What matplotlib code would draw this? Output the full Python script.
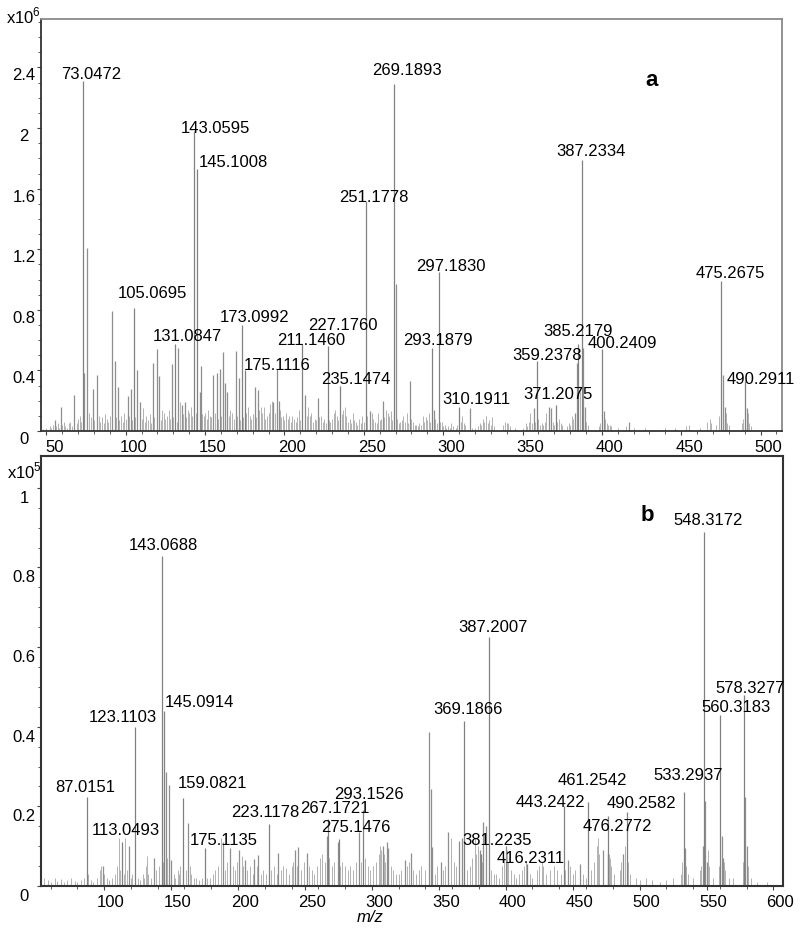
import matplotlib
matplotlib.use("Agg")
import matplotlib.pyplot as plt
from matplotlib.ticker import MultipleLocator, FuncFormatter
from matplotlib.transforms import ScaledTranslation

plt.rcParams["font.family"] = ["Liberation Sans", "DejaVu Sans"]
plt.rcParams["mathtext.fontset"] = "custom"
plt.rcParams["mathtext.rm"] = "Liberation Sans"

# ---- spectrum a (intensity x10^6) ----
lab_mz_a = [73.0472, 105.0695, 131.0847, 143.0595, 145.1008, 173.0992, 175.1116,
            211.1460, 227.1760, 235.1474, 251.1778, 269.1893, 293.1879, 297.1830,
            310.1911, 359.2378, 371.2075, 385.2179, 387.2334, 400.2409, 475.2675, 490.2911]
lab_int_a = [2.31, 0.81, 0.575, 1.98, 1.73, 0.70, 0.40, 0.575, 0.56, 0.30, 1.52,
             2.29, 0.55, 1.05, 0.16, 0.46, 0.17, 0.575, 1.79, 0.54, 0.99, 0.33]
lab_txt_a = ["73.0472", "105.0695", "131.0847", "143.0595", "145.1008", "173.0992",
             "175.1116", "211.1460", "227.1760", "235.1474", "251.1778", "269.1893",
             "293.1879", "297.1830", "310.1911", "359.2378", "371.2075", "385.2179",
             "387.2334", "400.2409", "475.2675", "490.2911"]

peak_mz_a = [55.4, 59.2, 67.4, 73.7, 75.4, 79.1, 81.6, 91.5, 93.2, 95.3, 101.2, 103.3,
             107.3, 108.9, 117.3, 119.5, 121.1, 129.3, 133.1, 135.6, 137.3, 146.7, 147.4,
             155.1, 157.6, 159.4, 161.4, 162.5, 163.6, 169.2, 171.3, 181.4, 183.5, 193.0,
             195.1, 196.7, 212.9, 221.3, 253.9, 262.3, 270.1, 279.0, 294.4, 316.9, 357.2,
             366.7, 367.7, 383.0, 384.2, 388.2, 389.3, 401.5, 417.0, 476.5, 477.6, 491.2]
peak_int_a = [0.07, 0.16, 0.24, 0.38, 1.21, 0.28, 0.37, 0.79, 0.46, 0.29, 0.23, 0.28,
              0.40, 0.19, 0.45, 0.54, 0.36, 0.44, 0.55, 0.17, 0.19, 0.26, 0.43,
              0.37, 0.38, 0.41, 0.52, 0.32, 0.26, 0.53, 0.35, 0.29, 0.27, 0.19,
              0.41, 0.20, 0.24, 0.22, 0.13, 0.20, 0.97, 0.33, 0.14, 0.15, 0.15,
              0.16, 0.15, 0.12, 0.45, 0.55, 0.16, 0.13, 0.06, 0.37, 0.16, 0.15]

grass_mz_a = [48, 50, 52, 53, 54, 56, 57, 58, 60, 61, 62, 63, 64, 65, 66, 69, 70, 71, 72, 77,
              78, 80, 83, 84, 85, 86, 87, 88, 89, 90, 94, 96, 97, 98, 99, 100, 102, 104, 106, 110,
              111, 112, 113, 114, 115, 116, 118, 120, 122, 123, 124, 125, 126, 127, 128, 130, 132,
              134, 136, 138, 139, 140, 141, 142, 144, 148, 149, 150, 151, 152, 153, 154, 156, 158,
              160, 164, 165, 166, 167, 168, 170, 172, 174, 176, 177, 178, 179, 180, 182, 184, 185,
              186, 187, 188, 189, 190, 191, 192, 194, 197, 198, 199, 200, 201, 202, 203, 204, 205,
              206, 207, 208, 209, 210, 214, 215, 216, 217, 218, 219, 220, 222, 223, 224, 225, 226,
              228, 229, 230, 231, 232, 233, 234, 236, 237, 238, 239, 240, 241, 242, 243, 244, 245,
              246, 247, 248, 249, 250, 252, 255, 256, 257, 258, 259, 260, 261, 263, 264, 265, 266,
              267, 268, 271, 272, 273, 274, 275, 276, 277, 278, 280, 281, 282, 283, 284, 285, 286,
              287, 288, 289, 290, 291, 292, 295, 296, 298, 299, 300, 301, 302, 303, 304, 305, 306,
              308, 309, 311, 312, 313, 314, 318, 320, 322, 323, 324, 325, 326, 327, 328, 329, 330,
              331, 332, 338, 339, 340, 341, 342, 345, 350, 352, 353, 354, 355, 356, 358, 360, 361,
              362, 363, 364, 365, 368, 369, 370, 372, 373, 374, 375, 378, 379, 380, 381, 382, 386,
              390, 391, 398, 399, 402, 403, 404, 405, 406, 410, 415, 420, 427, 440, 446, 453, 455,
              462, 466, 468, 469, 472, 474, 478, 479, 480, 488, 489, 492, 493, 494]
grass_int_a = [0.01, 0.02, 0.03, 0.02, 0.04, 0.03, 0.05, 0.02, 0.04, 0.06, 0.03, 0.02, 0.05, 0.06, 0.03, 0.05, 0.08, 0.10, 0.06, 0.12,
               0.09, 0.07, 0.10, 0.06, 0.09, 0.05, 0.11, 0.08, 0.06, 0.10, 0.09, 0.07, 0.10, 0.06, 0.12, 0.08, 0.10, 0.07, 0.09, 0.08,
               0.15, 0.06, 0.10, 0.07, 0.11, 0.05, 0.09, 0.12, 0.07, 0.14, 0.12, 0.08, 0.10, 0.14, 0.08, 0.09, 0.06,
               0.19, 0.11, 0.09, 0.14, 0.12, 0.16, 0.10, 0.12, 0.11, 0.10, 0.12, 0.08, 0.14, 0.10, 0.09, 0.12, 0.08,
               0.10, 0.12, 0.10, 0.14, 0.12, 0.08, 0.10, 0.07, 0.09, 0.12, 0.16, 0.10, 0.08, 0.11, 0.09, 0.14, 0.16,
               0.12, 0.16, 0.08, 0.10, 0.12, 0.18, 0.20, 0.12, 0.14, 0.09, 0.10, 0.07, 0.12, 0.08, 0.10, 0.06, 0.10,
               0.08, 0.06, 0.09, 0.14, 0.07, 0.10, 0.16, 0.10, 0.12, 0.06, 0.08, 0.07, 0.09, 0.10, 0.06, 0.08, 0.05,
               0.07, 0.06, 0.08, 0.12, 0.14, 0.10, 0.07, 0.11, 0.14, 0.16, 0.10, 0.06, 0.08, 0.05, 0.12, 0.07, 0.06,
               0.04, 0.08, 0.05, 0.10, 0.06, 0.10, 0.12, 0.08, 0.06, 0.05, 0.12, 0.07, 0.08, 0.09, 0.14, 0.12, 0.10,
               0.13, 0.07, 0.08, 0.05, 0.06, 0.07, 0.10, 0.06, 0.12, 0.05, 0.08, 0.06, 0.04, 0.04, 0.03, 0.05, 0.04,
               0.10, 0.06, 0.09, 0.07, 0.12, 0.06, 0.08, 0.05, 0.06, 0.06, 0.03, 0.04, 0.02, 0.03, 0.02, 0.05, 0.03,
               0.02, 0.04, 0.06, 0.10, 0.05, 0.04, 0.02, 0.02, 0.03, 0.05, 0.04, 0.08, 0.06, 0.10, 0.05, 0.07, 0.04,
               0.09, 0.03, 0.04, 0.06, 0.05, 0.05, 0.03, 0.02, 0.02, 0.05, 0.03, 0.06, 0.12, 0.05, 0.06, 0.08, 0.04,
               0.05, 0.04, 0.06, 0.12, 0.05, 0.06, 0.04, 0.06, 0.08, 0.05, 0.04, 0.03, 0.05, 0.04, 0.10, 0.08, 0.30,
               0.06, 0.04, 0.03, 0.05, 0.08, 0.05, 0.04, 0.04, 0.03, 0.02, 0.03, 0.02, 0.02, 0.02, 0.02, 0.03, 0.04,
               0.02, 0.06, 0.08, 0.05, 0.04, 0.10, 0.12, 0.05, 0.04, 0.05, 0.08, 0.12, 0.05, 0.03]

# ---- spectrum b (intensity x10^5) ----
lab_mz_b = [87.0151, 113.0493, 123.1103, 143.0688, 145.0914, 159.0821, 175.1135,
            223.1178, 267.1721, 275.1476, 293.1526, 369.1866, 381.2235, 387.2007,
            416.2311, 443.2422, 461.2542, 476.2772, 490.2582, 533.2937, 548.3172,
            560.3183, 578.3277]
lab_int_b = [0.223, 0.11, 0.40, 0.83, 0.44, 0.22, 0.095, 0.156, 0.168, 0.118, 0.19,
             0.415, 0.08, 0.625, 0.055, 0.20, 0.21, 0.177, 0.185, 0.235, 0.89, 0.43, 0.48]
lab_txt_b = ["87.0151", "113.0493", "123.1103", "143.0688", "145.0914", "159.0821",
             "175.1135", "223.1178", "267.1721", "275.1476", "293.1526", "369.1866",
             "381.2235", "387.2007", "416.2311", "443.2422", "461.2542", "476.2772",
             "490.2582", "533.2937", "548.3172", "560.3183", "578.3277"]

peak_mz_b = [99.5, 118.9, 137.6, 146.0, 148.8, 150.0, 163.0, 189.0, 194.1, 201.0, 205.3,
             212.0, 215.3, 230.2, 242.6, 245.1, 251.4, 266.3, 274.5, 290.7, 308.6, 311.1,
             312.3, 324.8, 329.0, 342.9, 344.0, 345.2, 351.4, 357.1, 365.4, 367.1, 380.8,
             383.3, 385.3, 400.2, 446.8, 455.5, 472.4, 476.6, 487.9, 533.9, 547.5, 549.0,
             550.1, 561.3, 562.5, 578.7, 580.0]
peak_int_b = [0.05, 0.10, 0.07, 0.286, 0.254, 0.065, 0.158, 0.11, 0.095, 0.091, 0.065,
              0.068, 0.078, 0.083, 0.09, 0.097, 0.083, 0.126, 0.11, 0.135, 0.10, 0.11,
              0.095, 0.065, 0.083, 0.388, 0.244, 0.097, 0.06, 0.135, 0.114, 0.12, 0.09,
              0.16, 0.15, 0.10, 0.065, 0.055, 0.09, 0.08, 0.08, 0.095, 0.10, 0.214,
              0.06, 0.126, 0.07, 0.223, 0.10]

grass_mz_b = [55, 58, 60, 63, 65, 68, 70, 72, 75, 78, 80, 83, 85, 88, 90, 92, 95, 97, 98, 100,
              102, 104, 106, 108, 110, 111, 112, 115, 116, 117, 120, 121, 125, 127, 129, 130, 131,
              132, 133, 135, 139, 141, 144, 147, 152, 153, 155, 156, 157, 161, 164, 165, 167, 169,
              171, 173, 177, 179, 181, 183, 185, 187, 190, 192, 196, 198, 199, 203, 204, 207, 209,
              211, 214, 217, 219, 221, 225, 227, 229, 232, 234, 236, 238, 240, 241, 244, 247, 249,
              253, 255, 257, 259, 261, 263, 265, 268, 270, 272, 276, 278, 280, 282, 284, 286, 288,
              292, 295, 297, 299, 301, 303, 305, 306, 307, 309, 310, 314, 316, 318, 320, 322, 326,
              328, 331, 333, 335, 337, 340, 347, 349, 353, 355, 359, 361, 363, 371, 373, 375, 377,
              378, 379, 382, 389, 391, 393, 395, 397, 399, 401, 402, 404, 406, 408, 410, 412, 414,
              415, 418, 420, 423, 425, 427, 428, 430, 433, 436, 438, 441, 444, 448, 450, 452, 458,
              460, 464, 466, 468, 469, 470, 473, 477, 478, 479, 481, 485, 486, 489, 491, 493, 497,
              500, 505, 509, 515, 520, 525, 531, 532, 535, 536, 540, 545, 546, 551, 552, 555, 559,
              563, 564, 567, 570, 577, 579, 581, 583, 588, 595]
grass_int_b = [0.02, 0.015, 0.01, 0.02, 0.012, 0.018, 0.01, 0.015, 0.02, 0.012, 0.01, 0.015, 0.02, 0.03, 0.015, 0.01, 0.02, 0.04, 0.05, 0.03,
               0.02, 0.015, 0.02, 0.03, 0.05, 0.12, 0.04, 0.03, 0.12, 0.04, 0.02, 0.03, 0.02, 0.015, 0.03, 0.02, 0.05,
               0.075, 0.03, 0.02, 0.04, 0.05, 0.06, 0.07, 0.03, 0.02, 0.04, 0.03, 0.05, 0.04, 0.05, 0.03, 0.02, 0.02,
               0.015, 0.02, 0.02, 0.02, 0.03, 0.04, 0.05, 0.12, 0.04, 0.06, 0.05, 0.04, 0.06, 0.075, 0.05, 0.04, 0.05,
               0.03, 0.05, 0.03, 0.04, 0.03, 0.04, 0.05, 0.03, 0.04, 0.05, 0.045, 0.03, 0.05, 0.06, 0.05, 0.04, 0.06,
               0.05, 0.04, 0.03, 0.05, 0.07, 0.08, 0.06, 0.07, 0.05, 0.06, 0.05, 0.06, 0.05, 0.04, 0.05, 0.04, 0.06,
               0.06, 0.07, 0.05, 0.04, 0.05, 0.06, 0.08, 0.10, 0.09, 0.08, 0.06, 0.05, 0.04, 0.03, 0.03, 0.04, 0.05,
               0.06, 0.04, 0.03, 0.04, 0.05, 0.04, 0.03, 0.05, 0.04, 0.05, 0.12, 0.06, 0.05, 0.04, 0.05, 0.07, 0.12,
               0.08, 0.10, 0.06, 0.04, 0.03, 0.03, 0.02, 0.05, 0.07, 0.09, 0.06, 0.04, 0.03, 0.02, 0.03, 0.04, 0.05,
               0.06, 0.03, 0.02, 0.04, 0.05, 0.06, 0.05, 0.03, 0.04, 0.05, 0.04, 0.03, 0.04, 0.05, 0.03, 0.04, 0.03,
               0.02, 0.04, 0.06, 0.10, 0.12, 0.08, 0.07, 0.08, 0.07, 0.05, 0.03, 0.04, 0.06, 0.10, 0.06, 0.03, 0.02,
               0.015, 0.02, 0.015, 0.01, 0.015, 0.02, 0.03, 0.06, 0.05, 0.03, 0.02, 0.04, 0.05, 0.09, 0.05, 0.02, 0.05,
               0.06, 0.04, 0.02, 0.02, 0.06, 0.12, 0.05, 0.02, 0.01, 0.01]

# label offsets in pixels (right, up) from the peak top
lab_off_a = [(8, 8), (19, 16), (12, 8), (21, 4), (36, 7), (13, 8), (32, 6), (9, 4), (15, 22),
             (16, 7), (8, 4), (13, 15), (6, 8), (12, 6), (17, 8), (10, 7), (2, 12), (0, 13),
             (9, 9), (20, 7), (9, 9), (16, 3)]
lab_off_b = [(-1, 11), (4, 13), (-12, 10), (2, 11), (35, 9), (29, 16), (19, 9), (-4, 12),
             (7, 12), (17, 13), (6, 17), (4, 12), (16, 15), (4, 11), (3, 7), (-13, 5), (5, 23),
             (10, -10), (15, 10), (4, 18), (4, 12), (16, 8), (6, 7)]


def shift(labels, fig, dx, dy):
    off = ScaledTranslation(dx / fig.dpi, -dy / fig.dpi, fig.dpi_scale_trans)
    for lab in labels:
        lab.set_transform(lab.get_transform() + off)


def draw_spectrum(ax, gmz, gint, pmz, pint, lmz, lint, ltxt, loff):
    ax.vlines(gmz, 0, gint, color="#b2b2b2", lw=0.7)
    ax.vlines(pmz, 0, pint, color="#8e8e8e", lw=0.9)
    ax.vlines(lmz, 0, lint, color="#808080", lw=0.9)
    for x, y, t, (dx, dy) in zip(lmz, lint, ltxt, loff):
        ax.annotate(t, xy=(x, y), xytext=(dx, dy), textcoords="offset pixels",
                    ha="center", va="center", fontsize=12)
    ax.tick_params(which="both", direction="out", colors="#444444", labelcolor="black",
                   labelsize=12)
    ax.tick_params(which="major", length=3, width=0.8)
    ax.tick_params(which="minor", length=2.2, width=0.6)
    ax.tick_params(axis="y", which="major", pad=9.3)
    ax.tick_params(axis="x", which="major", pad=2.5)
    ax.yaxis.set_major_formatter(FuncFormatter(lambda v, p: f"{v:g}"))


fig = plt.figure(figsize=(8, 9.29), dpi=100)

ax1 = fig.add_axes([41 / 800, 1 - 432 / 929, 741 / 800, 412 / 929])
draw_spectrum(ax1, grass_mz_a, grass_int_a, peak_mz_a, peak_int_a,
              lab_mz_a, lab_int_a, lab_txt_a, lab_off_a)
ax1.set_xlim(46.6, 513.5)
ax1.set_ylim(0, 2.72)
ax1.xaxis.set_major_locator(MultipleLocator(50))
ax1.xaxis.set_minor_locator(MultipleLocator(10))
ax1.yaxis.set_major_locator(MultipleLocator(0.4))
ax1.yaxis.set_minor_locator(MultipleLocator(0.1))
for s in ["left", "bottom"]:
    ax1.spines[s].set_color("#333333")
    ax1.spines[s].set_linewidth(1.3)
for s in ["top", "right"]:
    ax1.spines[s].set_color("#8a8a8a")
    ax1.spines[s].set_linewidth(1.3)

ax2 = fig.add_axes([41 / 800, 1 - 887 / 929, 742 / 800, 430 / 929])
draw_spectrum(ax2, grass_mz_b, grass_int_b, peak_mz_b, peak_int_b,
              lab_mz_b, lab_int_b, lab_txt_b, lab_off_b)
ax2.set_xlim(52.9, 607.1)
ax2.set_ylim(0, 1.08)
ax2.xaxis.set_major_locator(MultipleLocator(50))
ax2.xaxis.set_minor_locator(MultipleLocator(20))
ax2.yaxis.set_major_locator(MultipleLocator(0.2))
ax2.yaxis.set_minor_locator(MultipleLocator(0.05))
for s in ax2.spines.values():
    s.set_color("#333333")
    s.set_linewidth(1.5)

for ax, dx, dy in [(ax1, 8, 6), (ax2, 7, 8)]:
    ylabs = ax.get_yticklabels()
    for lab in ylabs:
        lab.set_horizontalalignment("center")
    shift(ylabs, fig, 0, dy)
    shift(ax.get_xticklabels(), fig, dx, 0)

fig.text(6 / 800, 1 - 23 / 929, "x10$^6$", fontsize=12, ha="left", va="baseline")
fig.text(7 / 800, 1 - 478 / 929, "x10$^5$", fontsize=12, ha="left", va="baseline")
fig.text(652 / 800, 1 - 80 / 929, "a", fontsize=16, fontweight="bold", ha="center", va="center")
fig.text(647 / 800, 1 - 516 / 929, "b", fontsize=16, fontweight="bold", ha="center", va="center")
fig.text(370 / 800, 1 - 918 / 929, "m/z", fontsize=12, style="italic", ha="center", va="center")

fig.savefig("out.png", dpi=100)
